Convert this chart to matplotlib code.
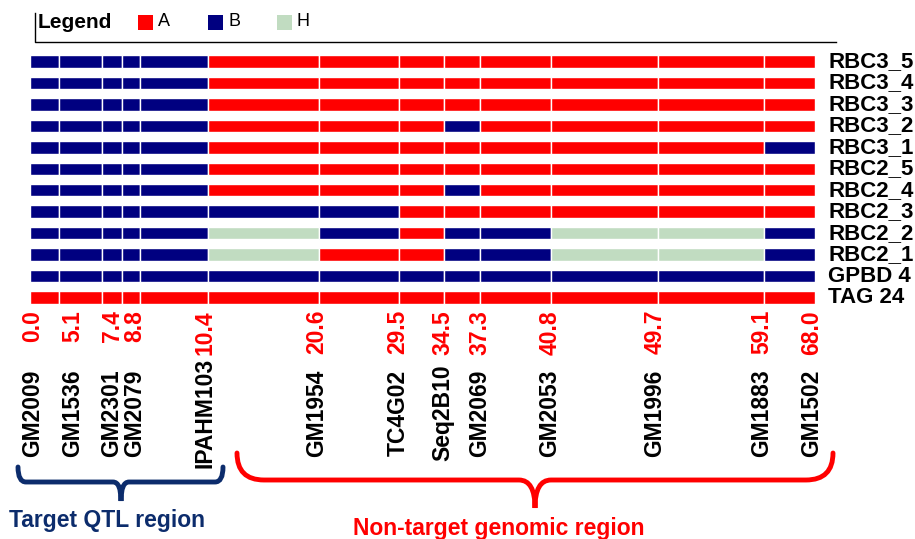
import matplotlib
matplotlib.use("Agg")
import matplotlib.pyplot as plt
import matplotlib.transforms as mtransforms
from matplotlib.path import Path
from matplotlib.patches import PathPatch, Rectangle
from matplotlib import rcParams

# rows of the graphical genotype, top to bottom
lines = ["RBC3_5", "RBC3_4", "RBC3_3", "RBC3_2", "RBC3_1", "RBC2_5",
         "RBC2_4", "RBC2_3", "RBC2_2", "RBC2_1", "GPBD 4", "TAG 24"]

# genotype call of each drawn segment (A, B or H), one string per row
genotypes = ["BBBBBAAAAAAAA",
             "BBBBBAAAAAAAA",
             "BBBBBAAAAAAAA",
             "BBBBBAAABAAAA",
             "BBBBBAAAAAAAB",
             "BBBBBAAAAAAAA",
             "BBBBBAAABAAAA",
             "BBBBBBBAAAAAA",
             "BBBBBHBABBHHB",
             "BBBBBHAABBHHB",
             "BBBBBBBBBBBBB",
             "AAAAAAAAAAAAA"]

# drawn widths of the 13 segments (as in the original sheet)
seg_widths = [29, 43, 20, 18, 68, 111, 80, 45, 36, 71, 107, 106, 51]

# markers, their map positions (cM) and where the labels sit
markers = ["GM2009", "GM1536", "GM2301", "GM2079", "IPAHM103", "GM1954",
           "TC4G02", "Seq2B10", "GM2069", "GM2053", "GM1996", "GM1883", "GM1502"]
positions = [0.0, 5.1, 7.4, 8.8, 10.4, 20.6, 29.5, 34.5, 37.3, 40.8, 49.7, 59.1, 68.0]
label_x = [3, 43, 82, 105, 175, 287, 368, 413, 450, 520, 625, 732, 782]

colours = {"A": "#ff0000", "B": "#000080", "H": "#c1dcc1"}
navy = "#0c2c6c"

rcParams['font.family'] = ['Liberation Sans', 'DejaVu Sans']
rcParams['font.size'] = 12

W, H = 915, 539
fig = plt.figure(figsize=(W / 100, H / 100), dpi=100, facecolor='white')

# main genotype axes, placed in pixel terms
top_px, bot_px = 50.8, 308.2
ax = fig.add_axes([30 / W, 1 - bot_px / H, sum(seg_widths) / W, (bot_px - top_px) / H])
ax.set_xlim(0, sum(seg_widths))
ax.set_ylim(len(lines) - 0.5, -0.5)
ax.axis('off')

# overlay axes in pixel coordinates for legend, labels, braces
ov = fig.add_axes([0, 0, 1, 1], zorder=-1)
ov.set_xlim(0, W)
ov.set_ylim(H, 0)
ov.axis('off')

for i, g in enumerate(genotypes):
    left = 0
    for j, w in enumerate(seg_widths):
        ax.barh(i, w, left=left, height=0.58, color=colours[g[j]],
                edgecolor='white', linewidth=1.0)
        left += w
    ax.text(sum(seg_widths) + 13, i, lines[i], ha='left', va='center',
            fontsize=16, fontweight='bold', clip_on=False)

# marker labels under the bars
trans = mtransforms.blended_transform_factory(ax.transData, ov.transData)
for m, p, x in zip(markers, positions, label_x):
    ax.text(x, 310, "%.1f" % p, transform=trans, rotation=90, ha='center',
            va='top', color='red', fontsize=16.5, fontweight='bold', clip_on=False)
    ax.text(x, 413, m, transform=trans, rotation=90, ha='center', va='center',
            fontsize=16.5, fontweight='bold', clip_on=False)

# legend block
ov.plot([35, 35, 836], [13, 42, 42], color='black', lw=1)
ov.text(38, 22, "Legend", fontsize=15, fontweight='bold', va='center', ha='left')
for key, x0 in zip(["A", "B", "H"], [138, 208, 277]):
    ov.add_patch(Rectangle((x0, 15), 15, 15, facecolor=colours[key], edgecolor='none'))
    ov.text(x0 + 20, 22, key, fontsize=13, va='center', ha='left')


def brace(x0, x1, xm, ytop, yline, ytip, r, rt):
    # curly brace made of two halves and a tip
    verts = [(x0, ytop), (x0, yline), (x0 + r, yline),
             (xm - rt, yline), (xm, yline), (xm, ytip),
             (xm, yline), (xm + rt, yline),
             (x1 - r, yline), (x1, yline), (x1, ytop)]
    codes = [Path.MOVETO, Path.CURVE3, Path.CURVE3,
             Path.LINETO, Path.CURVE3, Path.CURVE3,
             Path.CURVE3, Path.CURVE3,
             Path.LINETO, Path.CURVE3, Path.CURVE3]
    return Path(verts, codes)


ov.add_patch(PathPatch(brace(18, 223, 121, 467, 482, 501, 8, 8),
                       facecolor='none', edgecolor=navy, lw=3.5, capstyle='round'))
ov.text(107, 520, "Target QTL region", color=navy, fontsize=16.5,
        fontweight='bold', ha='center', va='center')

ov.add_patch(PathPatch(brace(237, 833, 535, 453, 480, 508, 27, 16),
                       facecolor='none', edgecolor='red', lw=3.5, capstyle='round'))
ov.text(499, 528, "Non-target genomic region", color='red', fontsize=16.5,
        fontweight='bold', ha='center', va='center')

plt.savefig("out.png", dpi=100, facecolor='white')
